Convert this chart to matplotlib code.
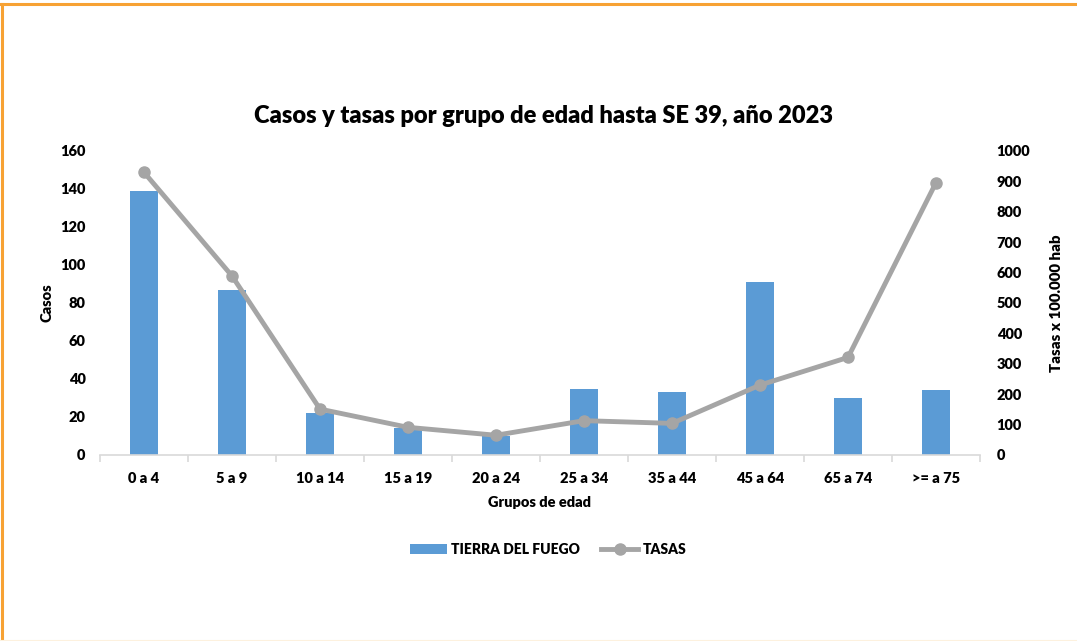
import matplotlib
matplotlib.use("Agg")
import matplotlib.pyplot as plt
from matplotlib.lines import Line2D
from matplotlib.patches import Patch
import numpy as np

plt.rcParams['font.family'] = ['Lato', 'DejaVu Sans']

categories = ["0 a 4", "5 a 9", "10 a 14", "15 a 19", "20 a 24",
              "25 a 34", "35 a 44", "45 a 64", "65 a 74", ">= a 75"]
casos = [139, 87, 22, 14, 10, 35, 33, 91, 30, 34]
tasas = [930, 589, 151, 91, 65, 113, 104, 230, 321, 896]

bar_color = "#5B9BD5"
line_color = "#A5A5A5"
text_color = "#000000"
WEIGHT = 'heavy'

fig = plt.figure(figsize=(10.77, 6.41), dpi=100)
W, H = 1077, 641
ax = fig.add_axes([100 / W, 1 - 455 / H, 880 / W, (455 - 151) / H])
ax2 = ax.twinx()

x = np.arange(len(categories))
ax.bar(x, casos, width=0.31, color=bar_color, zorder=2)
ax2.plot(x, tasas, color=line_color, lw=3.5, marker='o', markersize=8,
         markerfacecolor=line_color, markeredgecolor=line_color, zorder=3)

ax.set_xlim(-0.5, len(categories) - 0.5)
ax.set_ylim(0, 160)
ax.set_yticks(range(0, 161, 20))
ax2.set_ylim(0, 1000)
ax2.set_yticks(range(0, 1001, 100))

for a in (ax, ax2):
    for s in ("top", "left", "right"):
        a.spines[s].set_visible(False)
ax2.spines["bottom"].set_visible(False)
ax.spines["bottom"].set_color("#D9D9D9")
ax.spines["bottom"].set_linewidth(1.2)

ax.set_xticks(x)
ax.set_xticklabels(categories, fontsize=10.5, fontweight=WEIGHT, color=text_color)
ax.set_xticks(np.arange(-0.5, len(categories) + 0.5, 1), minor=True)
ax.tick_params(axis='x', which='major', length=0, pad=12)
ax.tick_params(axis='x', which='minor', length=5, color="#D9D9D9", width=1.2)
ax.tick_params(axis='y', length=0, labelsize=10.5, pad=10.5)
ax2.tick_params(axis='y', length=0, labelsize=10.5, pad=12)
for lab in ax.get_yticklabels() + ax2.get_yticklabels():
    lab.set_fontweight(WEIGHT)

ax.set_ylabel("Casos", fontsize=10.5, fontweight=WEIGHT, labelpad=5)
ax2.set_ylabel("Tasas x 100.000 hab", fontsize=10.8, fontweight=WEIGHT, labelpad=14)
ax.set_xlabel("Grupos de edad", fontsize=10.5, fontweight=WEIGHT, labelpad=8)

fig.text(543 / W, 1 - 116 / H, "Casos y tasas por grupo de edad hasta SE 39, año 2023",
         ha='center', va='center', fontsize=17, fontweight=WEIGHT)

handles = [Patch(facecolor=bar_color, edgecolor='none'),
           Line2D([0], [0], color=line_color, lw=3.5, marker='o', markersize=8)]
fig.legend(handles, ["TIERRA DEL FUEGO", "TASAS"], loc='center',
           bbox_to_anchor=(548 / W, 1 - 549 / H), ncol=2, frameon=False,
           prop={'size': 10, 'weight': WEIGHT}, handlelength=2.7,
           columnspacing=1.5, handletextpad=0.3)

# orange frame
fig.add_artist(Line2D([0, 1], [1 - 4 / H, 1 - 4 / H], color="#F7A234", lw=2.2,
                      transform=fig.transFigure))
fig.add_artist(Line2D([2.5 / W, 2.5 / W], [0, 1 - 4 / H], color="#F7A234", lw=2.2,
                      transform=fig.transFigure))
fig.add_artist(Line2D([0, 1], [0.5 / H, 0.5 / H], color="#FDF1DE", lw=1.5,
                      transform=fig.transFigure))

fig.savefig("out.png", dpi=100)
